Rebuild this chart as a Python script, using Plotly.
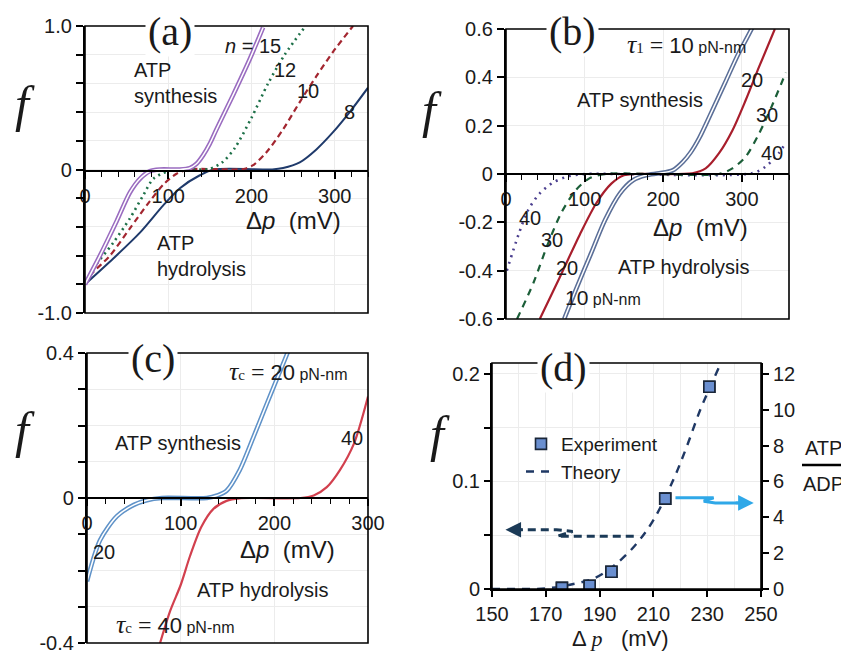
import plotly.graph_objects as go

# ---------------- data ----------------
# Panel (a): f vs delta p for n = 15, 12, 10, 8
a_x_n15 = [0, 18, 38, 54, 66, 78, 90, 114, 126, 134, 142, 150, 158, 178, 198, 214]
a_f_n15 = [-0.80, -0.60, -0.36, -0.16, -0.065, -0.012, 0, 0, 0.01, 0.04, 0.10, 0.18, 0.28, 0.52, 0.77, 0.99]
a_x_n12 = [0, 10, 34, 54, 70, 82, 98, 110, 140, 150, 165, 180, 200, 220, 240, 265]
a_f_n12 = [-0.80, -0.69, -0.51, -0.34, -0.18, -0.065, -0.015, 0, 0, 0.005, 0.05, 0.15, 0.36, 0.60, 0.80, 1.0]
a_x_n10 = [0, 6, 30, 54, 78, 95, 110, 125, 180, 192, 202, 218, 238, 258, 278, 298, 322]
a_f_n10 = [-0.80, -0.74, -0.60, -0.41, -0.22, -0.10, -0.03, 0, 0, 0.005, 0.03, 0.12, 0.28, 0.47, 0.65, 0.82, 1.0]
a_x_n8 = [0, 34, 66, 94, 114, 138, 155, 225, 238, 258, 278, 298, 318, 340]
a_f_n8 = [-0.80, -0.62, -0.44, -0.25, -0.13, -0.04, 0, 0, 0.01, 0.05, 0.14, 0.26, 0.40, 0.57]

# Panel (b): tau_1 = 10, 20, 30, 40 pN-nm
b_x_t10 = [74, 90, 108, 126, 145, 162, 178, 195, 212, 225, 235, 246, 262, 279, 296, 306, 314]
b_f_t10 = [-0.60, -0.47, -0.33, -0.19, -0.08, -0.025, -0.005, 0.003, 0.015, 0.05, 0.09, 0.15, 0.26, 0.38, 0.50, 0.56, 0.61]
b_x_t20 = [43, 68, 94, 115, 134, 150, 165, 237, 254, 271, 288, 305, 322, 342]
b_f_t20 = [-0.60, -0.43, -0.25, -0.12, -0.04, -0.005, 0, 0.003, 0.023, 0.086, 0.18, 0.306, 0.444, 0.60]
b_x_t30 = [14, 35, 52, 70, 89, 106, 127, 271, 288, 305, 322, 338, 356]
b_f_t30 = [-0.60, -0.45, -0.30, -0.163, -0.066, -0.018, 0, 0, 0.023, 0.072, 0.168, 0.28, 0.42]
b_x_t40 = [1, 16, 28, 43, 60, 81, 102, 313, 330, 347, 356]
b_f_t40 = [-0.40, -0.25, -0.15, -0.08, -0.035, -0.008, 0, 0.003, 0.03, 0.086, 0.13]

# Panel (c): tau_c = 20, 40 pN-nm
c_x_t20 = [0, 14, 32, 50, 64, 80, 128, 139, 149, 163, 178, 192, 203, 214, 218]
c_f_t20 = [-0.23, -0.116, -0.05, -0.019, -0.006, 0, 0, 0.007, 0.02, 0.077, 0.17, 0.26, 0.33, 0.40, 0.43]
c_x_t40 = [78, 89, 100, 110, 122, 135, 149, 163, 178, 228, 242, 256, 270, 285, 300]
c_f_t40 = [-0.40, -0.31, -0.24, -0.16, -0.08, -0.03, -0.008, -0.001, 0, 0, 0.007, 0.03, 0.077, 0.15, 0.28]

# Panel (d): experiment and theory
d_x_exp = [176, 186.3, 194.4, 214.4, 230.8]
d_f_exp = [0.001, 0.003, 0.016, 0.084, 0.188]
d_x_th = [150, 160, 170, 179, 188, 195, 203, 210, 217.5, 222.5, 227.5, 232.4, 236]
d_f_th = [0, 0, 0.0005, 0.004, 0.010, 0.021, 0.040, 0.064, 0.102, 0.133, 0.167, 0.195, 0.215]

a_ticks = [0, 100, 200, 300]
c_ticks = [0, 100, 200, 300]
d_xticks = [150, 170, 190, 210, 230, 250]
d_rticks = [0, 2, 4, 6, 8, 10, 12]

# page offset (default body margin) compensation
OFF = 8
FW, FH = 849 - OFF, 655 - OFF


def fx(p):
    return (p - OFF) / FW


def fy(p):
    return 1 - (p - OFF) / FH


SANS = "Liberation Sans"
SERIF = "Liberation Serif"
TXT = "#1a1a1a"

fig = go.Figure()


def line(x, y, xa, ya, color, width=2, dash="solid", double=False):
    if double:
        fig.add_trace(go.Scatter(x=x, y=y, xaxis=xa, yaxis=ya, mode="lines",
                                 line=dict(color=color, width=4.6, shape="spline", smoothing=0.8),
                                 showlegend=False, hoverinfo="skip"))
        fig.add_trace(go.Scatter(x=x, y=y, xaxis=xa, yaxis=ya, mode="lines",
                                 line=dict(color="white", width=1.5, shape="spline", smoothing=0.8),
                                 showlegend=False, hoverinfo="skip"))
    else:
        fig.add_trace(go.Scatter(x=x, y=y, xaxis=xa, yaxis=ya, mode="lines",
                                 line=dict(color=color, width=width, dash=dash, shape="spline", smoothing=0.8),
                                 showlegend=False, hoverinfo="skip"))


# (a)
line(a_x_n8, a_f_n8, "x", "y", "#1f3a6b", 2)
line(a_x_n10, a_f_n10, "x", "y", "#a32630", 2.2, dash="6px,4px")
line(a_x_n12, a_f_n12, "x", "y", "#1d7048", 2.6, dash="2px,4px")
line(a_x_n15, a_f_n15, "x", "y", "#9a6cc0", double=True)

# (b)
line(b_x_t40, b_f_t40, "x2", "y2", "#4b3f8f", 2.6, dash="2px,5px")
line(b_x_t30, b_f_t30, "x2", "y2", "#1b5e38", 2.2, dash="7px,6px")
line(b_x_t20, b_f_t20, "x2", "y2", "#a81e2c", 2.2)
line(b_x_t10, b_f_t10, "x2", "y2", "#5b6f98", double=True)

# (c)
line(c_x_t40, c_f_t40, "x3", "y3", "#d2404e", 2.2)
line(c_x_t20, c_f_t20, "x3", "y3", "#5f92c8", double=True)

# (d)
fig.add_trace(go.Scatter(x=d_x_exp, y=d_f_exp, xaxis="x4", yaxis="y4", mode="markers", name="Experiment",
                         marker=dict(symbol="square", size=11, color="#6a8fd0",
                                     line=dict(color="#1a2638", width=1.6)),
                         showlegend=True, hoverinfo="skip"))
fig.add_trace(go.Scatter(x=d_x_th, y=d_f_th, xaxis="x4", yaxis="y4", mode="lines", name="Theory",
                         line=dict(color="#1f3864", width=2.4, dash="8px,7px", shape="spline"),
                         showlegend=True, hoverinfo="skip"))
fig.add_trace(go.Scatter(x=[150], y=[0], xaxis="x4", yaxis="y5", mode="markers",
                         marker=dict(opacity=0), showlegend=False, hoverinfo="skip"))
fig.add_trace(go.Scatter(x=d_x_exp, y=d_f_exp, xaxis="x4", yaxis="y4", mode="markers",
                         marker=dict(symbol="square", size=11, color="#6a8fd0",
                                     line=dict(color="#1a2638", width=1.6)),
                         showlegend=False, hoverinfo="skip"))

tickfont = dict(family=SANS, size=20, color=TXT)
grid = "#ececec"


def xaxis_mid(dom, rng, pos, ticks):
    return dict(domain=dom, range=rng, anchor="free", position=pos, showline=True, linecolor="black",
                linewidth=2.2, ticks="outside", ticklen=7, tickwidth=1.5, tickcolor="black",
                tickvals=ticks, ticktext=[str(t) for t in ticks], tickfont=tickfont, automargin=False,
                showgrid=True, gridcolor=grid, gridwidth=1, zeroline=False,
                minor=dict(dtick=20, ticklen=5, tickwidth=1.2, tickcolor="black", ticks="outside",
                           showgrid=False))


def yaxis_left(dom, rng, anchor, vals, texts):
    return dict(domain=dom, range=rng, anchor=anchor, showline=True, linecolor="black", linewidth=2.2,
                ticks="outside", ticklen=7, tickwidth=1.5, tickcolor="black", tickvals=vals, automargin=False,
                ticktext=texts, tickfont=tickfont, showgrid=True, gridcolor=grid, zeroline=False)


a_yv = [-1.0, -0.8, -0.6, -0.4, -0.2, 0, 0.2, 0.4, 0.6, 0.8, 1.0]
a_yt = ["-1.0", "", "", "", "", "0", "", "", "", "", "1.0"]
b_yv = [-0.6, -0.4, -0.2, 0, 0.2, 0.4, 0.6]
b_yt = ["-0.6", "-0.4", "-0.2", "0", "0.2", "0.4", "0.6"]
c_yv = [-0.4, -0.3, -0.2, -0.1, 0, 0.1, 0.2, 0.3, 0.4]
c_yt = ["-0.4", "", "", "", "0", "", "", "", "0.4"]

fig.update_layout(
    width=FW, height=FH, margin=dict(l=0, r=0, t=0, b=0, autoexpand=False),
    paper_bgcolor="white", plot_bgcolor="white",
    xaxis=xaxis_mid([fx(85), fx(368)], [0, 340], fy(171), a_ticks),
    yaxis=yaxis_left([fy(313), fy(26)], [-1, 1], "x", a_yv, a_yt),
    xaxis2=xaxis_mid([fx(506), fx(789)], [0, 360], fy(174), a_ticks),
    yaxis2=yaxis_left([fy(319), fy(29)], [-0.6, 0.6], "x2", b_yv, b_yt),
    xaxis3=xaxis_mid([fx(87), fx(368)], [0, 300], fy(498), c_ticks),
    yaxis3=yaxis_left([fy(643), fy(353)], [-0.4, 0.4], "x3", c_yv, c_yt),
    xaxis4=dict(domain=[fx(492), fx(761)], range=[150, 250], anchor="y4", showline=True, linecolor="black",
                linewidth=2, ticks="outside", ticklen=6, tickwidth=1.5, tickcolor="black", automargin=False,
                tickvals=d_xticks, ticktext=[str(t) for t in d_xticks], tickfont=tickfont,
                showgrid=True, gridcolor=grid, zeroline=False,
                minor=dict(dtick=10, showgrid=True, gridcolor=grid, ticks="")),
    yaxis4=dict(domain=[fy(589), fy(363)], range=[0, 0.21], anchor="x4", showline=True,
                linecolor="black", linewidth=2, ticks="outside", ticklen=6, tickwidth=1.5, tickcolor="black",
                tickvals=[0, 0.05, 0.1, 0.15, 0.2], ticktext=["0", "", "0.1", "", "0.2"], tickfont=tickfont,
                showgrid=True, gridcolor=grid, zeroline=False, automargin=False),
    yaxis5=dict(overlaying="y4", side="right", anchor="x4", range=[0, 12.6], showline=True,
                linecolor="black", linewidth=2, ticks="outside", ticklen=6, tickwidth=1.5, tickcolor="black",
                tickvals=d_rticks, ticktext=[str(t) for t in d_rticks], tickfont=tickfont,
                showgrid=False, zeroline=False, automargin=False),
    legend=dict(x=fx(521), y=fy(425), xanchor="left", yanchor="top", bgcolor="rgba(0,0,0,0)",
                font=dict(family=SANS, size=19, color=TXT), itemwidth=30, tracegroupgap=0),
)

# frames
for xr, yr in [("x", "y"), ("x2", "y2"), ("x3", "y3"), ("x4", "y4")]:
    fig.add_shape(type="rect", xref=xr + " domain", yref=yr + " domain", x0=0, x1=1, y0=0, y1=1,
                  line=dict(color="black", width=1.6), layer="above")


def ann(text, x, y, xref, yref, size=20, family=SANS, **kw):
    d = dict(text=text, x=x, y=y, xref=xref, yref=yref, showarrow=False,
             xanchor="center", yanchor="middle",
             font=dict(family=family, size=size, color=TXT))
    d.update(kw)
    fig.add_annotation(**d)


# panel titles (break the top frame)
for t, px, py in [("(a)", 170, 31), ("(b)", 572, 32), ("(c)", 153, 358), ("(d)", 563, 367)]:
    ann(t, fx(px), fy(py), "paper", "paper", size=40, family=SERIF, bgcolor="white", borderpad=2)

# f labels
for px, py in [(25, 104), (432, 110), (25, 430), (440, 434)]:
    ann("<i>f</i>", fx(px), fy(py), "paper", "paper", size=50, family=SERIF)

# (a) annotations
ann("<i>n</i> = 15", 202, 0.86, "x", "y")
ann("12", 240, 0.69, "x", "y")
ann("10", 268, 0.55, "x", "y")
ann("8", 318, 0.40, "x", "y")
ann("ATP<br>synthesis", 56, 0.60, "x", "y", xanchor="left", align="left")
ann("ATP<br>hydrolysis", 84, -0.60, "x", "y", xanchor="left", align="left")
ann("Δ<i>p</i>  (mV)", 250, -0.355, "x", "y", size=24)

# (b) annotations
tau1 = ('<span style="font-family:Liberation Serif;font-size:26px"><i>τ</i></span>'
        '<span style="font-family:Liberation Serif;font-size:15px">1</span>'
        '<span style="font-family:Liberation Serif;font-size:24px"> = </span>'
        '<span style="font-size:22px">10</span><span style="font-size:16px"> pN-nm</span>')
ann(tau1, 229, 0.535, "x2", "y2")
ann("20", 313, 0.389, "x2", "y2")
ann("30", 332, 0.244, "x2", "y2")
ann("40", 338, 0.087, "x2", "y2")
ann("ATP synthesis", 170, 0.306, "x2", "y2")
ann("40", 30, -0.182, "x2", "y2")
ann("30", 58, -0.273, "x2", "y2")
ann("20", 78, -0.389, "x2", "y2")
ann('<span style="font-size:21px">10</span><span style="font-size:16px"> pN-nm</span>', 123, -0.509, "x2", "y2")
ann("ATP hydrolysis", 227, -0.385, "x2", "y2")
ann("Δ<i>p</i>  (mV)", 248, -0.223, "x2", "y2", size=24)


# (c) annotations
def tauc(v):
    return ('<span style="font-family:Liberation Serif;font-size:26px"><i>τ</i></span>'
            '<span style="font-family:Liberation Serif;font-size:15px">c</span>'
            '<span style="font-family:Liberation Serif;font-size:24px"> = </span>'
            '<span style="font-size:22px">%s</span><span style="font-size:16px"> pN-nm</span>' % v)


ann(tauc("20"), 215, 0.348, "x3", "y3")
ann("ATP synthesis", 97, 0.152, "x3", "y3")
ann("40", 283, 0.166, "x3", "y3")
ann("20", 18, -0.149, "x3", "y3")
ann("Δ<i>p</i>  (mV)", 214, -0.143, "x3", "y3", size=24)
ann("ATP hydrolysis", 188, -0.254, "x3", "y3")
ann(tauc("40"), 94, -0.35, "x3", "y3")

# (d) annotations
ann('Δ <span style="font-family:Liberation Serif"><i>p</i></span>   (mV)', fx(620), fy(638), "paper", "paper", size=22)
ann("ATP", fx(823), fy(448), "paper", "paper", size=20)
ann("ADP", fx(823), fy(484), "paper", "paper", size=20)
fig.add_shape(type="line", xref="paper", yref="paper", x0=fx(802), x1=fx(849), y0=fy(465), y1=fy(465),
              line=dict(color="black", width=2.5))

# arrows in (d)
navy = "#1b3a57"
fig.add_shape(type="path", xref="x4", yref="y4",
              path="M 202.7 0.049 L 174.2 0.049 L 180 0.0535 L 174 0.055 L 157 0.055",
              line=dict(color=navy, width=3, dash="8px,5px"))
fig.add_annotation(x=155, y=0.055, ax=162, ay=0.055, xref="x4", yref="y4", axref="x4", ayref="y4",
                   showarrow=True, arrowhead=2, arrowsize=1.2, arrowwidth=2.6, arrowcolor=navy, text="")
cyan = "#2fa8e8"
fig.add_shape(type="path", xref="x4", yref="y4",
              path="M 218.2 0.0847 L 232.4 0.0847 L 228.7 0.0815 L 233 0.0800 L 245 0.0800",
              line=dict(color=cyan, width=3))
fig.add_annotation(x=247.3, y=0.080, ax=240, ay=0.080, xref="x4", yref="y4", axref="x4", ayref="y4",
                   showarrow=True, arrowhead=2, arrowsize=1.2, arrowwidth=2.6, arrowcolor=cyan, text="")

fig.write_html("out.html")
